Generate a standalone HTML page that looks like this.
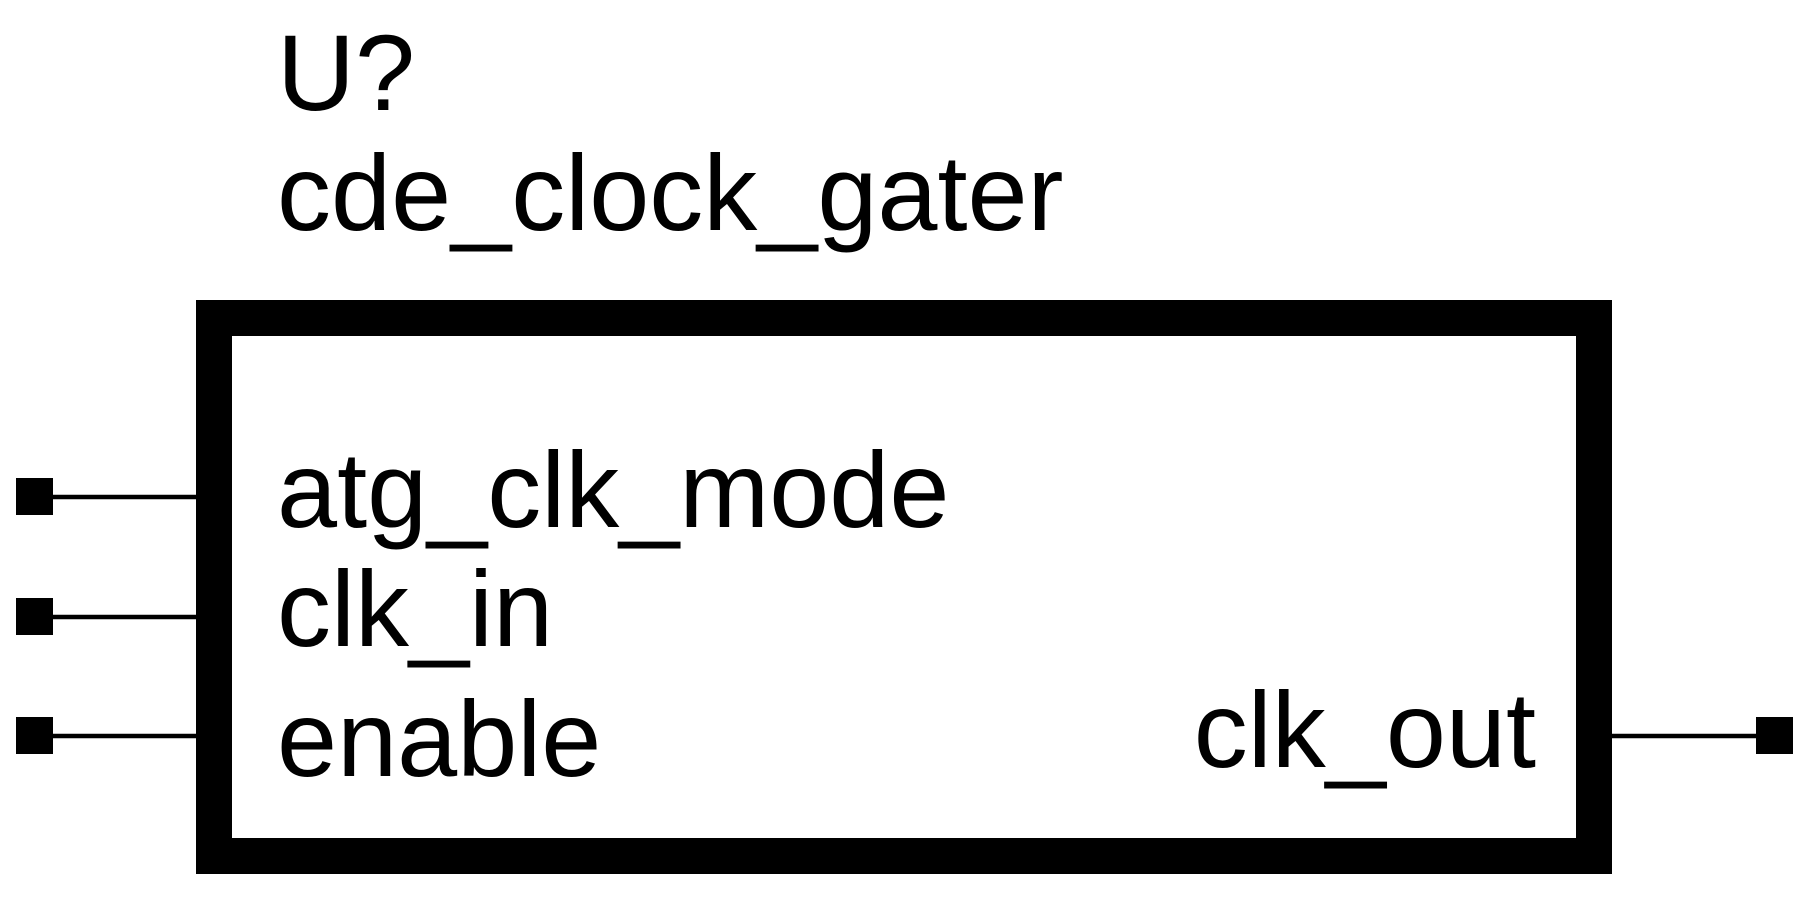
<!DOCTYPE html>
<html><head><meta charset="utf-8"><style>html,body{margin:0;padding:0;background:#fff;}svg{display:block}</style></head>
<body>
<svg width="1809" height="907" viewBox="0 0 1809 907" xmlns="http://www.w3.org/2000/svg" font-family="Liberation Sans, sans-serif" fill="#000">
<rect x="214" y="318" width="1380" height="538" fill="none" stroke="#000" stroke-width="36"/>
<g stroke="#000" stroke-width="4.6">
<line x1="53" y1="497" x2="196" y2="497"/>
<line x1="53" y1="617" x2="196" y2="617"/>
<line x1="53" y1="736" x2="196" y2="736"/>
<line x1="1612" y1="736" x2="1756" y2="736"/>
</g>
<rect x="16" y="478" width="37" height="37"/>
<rect x="16" y="598" width="37" height="37"/>
<rect x="16" y="717" width="37" height="37"/>
<rect x="1756" y="717" width="37" height="37"/>
<g font-size="108">
<text x="277" y="110">U?</text>
<text x="277" y="230">cde_clock_gater</text>
<text x="277" y="527">atg_clk_mode</text>
<text x="277" y="646">clk_in</text>
<text x="277" y="776">enable</text>
<text x="1536" y="767" text-anchor="end">clk_out</text>
</g>
</svg>
</body></html>
